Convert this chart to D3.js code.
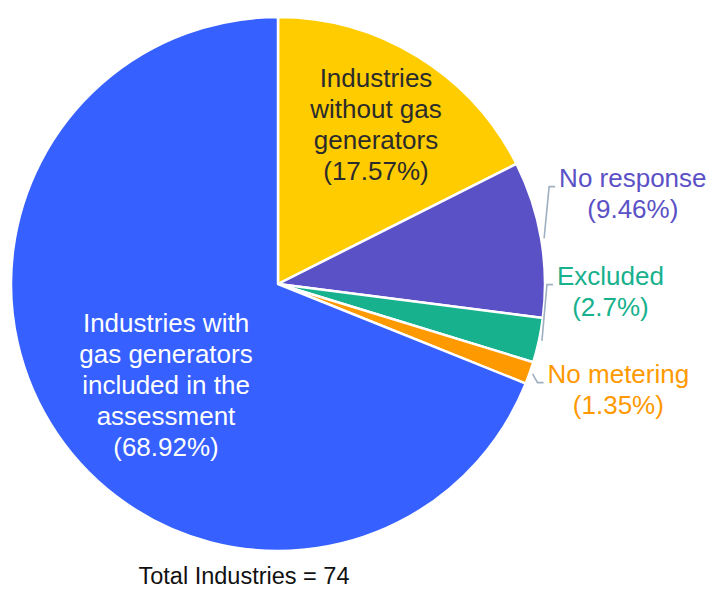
<!DOCTYPE html>
<html>
<head>
<meta charset="utf-8">
<script src="https://cdn.jsdelivr.net/npm/d3@7"></script>
<style>
  body { margin: 0; background: #fff; }
  svg text { font-family: "Liberation Sans", Arial, sans-serif; }
</style>
</head>
<body>
<svg width="713" height="589"></svg>
<script>
// data
var categories = ["Industries without gas generators", "No response", "Excluded", "No metering",
    "Industries with gas generators included in the assessment"];
var counts = [13, 7, 2, 1, 51];
var labelLines = [
    ["Industries", "without gas", "generators"],
    ["No response"],
    ["Excluded"],
    ["No metering"],
    ["Industries with", "gas generators", "included in the", "assessment"]
];
var colors = ["#FFCC00", "#5B51C6", "#17B18D", "#FF9900", "#3660FF"];
var totalLabel = "Total Industries = 74";

var svg = d3.select("svg"),
    width = +svg.attr("width"),
    height = +svg.attr("height"),
    cx = 278, cy = 284, radius = 267,
    lineH = 31;

var total = d3.sum(counts);
var pct = counts.map(function (c) { return +(c / total * 100).toFixed(2) + "%"; });

// inside / outside label settings (layout, not data)
var inside = { 0: { r: 0.70, shift: 0, fill: "#2b2b2b" }, 4: { r: 0.565, shift: -8, fill: "#ffffff" } };

var pie = d3.pie().sort(null).value(function (d) { return d; });
var arcs = pie(counts);
var arc = d3.arc().innerRadius(0).outerRadius(radius);

var g = svg.append("g").attr("transform", "translate(" + cx + "," + cy + ")");

g.selectAll("path")
    .data(arcs)
    .enter().append("path")
    .attr("d", arc)
    .attr("fill", function (d, i) { return colors[i]; })
    .attr("stroke", "#fff")
    .attr("stroke-width", 2.5)
    .attr("stroke-linejoin", "round");

function polar(a, r) { return [r * Math.sin(a), -r * Math.cos(a)]; }

// inside labels
arcs.forEach(function (d, i) {
    if (!inside[i]) return;
    var s = inside[i];
    var mid = (d.startAngle + d.endAngle) / 2 + s.shift * Math.PI / 180;
    var p = polar(mid, radius * s.r);
    var lines = labelLines[i].concat(["(" + pct[i] + ")"]);
    var t = g.append("text")
        .attr("text-anchor", "middle")
        .attr("font-size", 26)
        .attr("fill", s.fill);
    lines.forEach(function (ln, k) {
        t.append("tspan")
            .attr("x", p[0])
            .attr("y", p[1] + (k - (lines.length - 1) / 2) * lineH)
            .attr("dy", "0.35em")
            .text(ln);
    });
});

// outside labels: anchor the lowest at its mid angle, stack the rest upward
var outside = arcs.map(function (d, i) { return { d: d, i: i }; })
    .filter(function (o) { return !inside[o.i]; });
outside.forEach(function (o) {
    o.mid = (o.d.startAngle + o.d.endAngle) / 2;
    o.y = polar(o.mid, radius + 50)[1];
});
var gap = 98;
var lowY = d3.max(outside, function (o) { return o.y; });
outside.forEach(function (o, k) {
    o.ly = lowY - (outside.length - 1 - k) * gap;
});

outside.forEach(function (o) {
    var p1 = polar(o.mid, radius + 3);
    var ey = o.ly - 7;
    var p2 = [p1[0] + 5, ey];
    var p3 = [p2[0] + 6, ey];
    g.append("polyline")
        .attr("points", [p1, p2, p3].map(function (p) { return p.join(","); }).join(" "))
        .attr("fill", "none")
        .attr("stroke", "#9fb0c2")
        .attr("stroke-width", 1.6);

    var tx = p3[0] + 4;
    var t = g.append("text")
        .attr("font-size", 26)
        .attr("fill", colors[o.i]);
    var first = t.append("tspan")
        .attr("x", tx)
        .attr("y", o.ly - lineH / 2)
        .attr("dy", "0.35em")
        .text(labelLines[o.i][0]);
    var w = first.node().getComputedTextLength();
    t.append("tspan")
        .attr("x", tx + w / 2)
        .attr("y", o.ly + lineH / 2)
        .attr("dy", "0.35em")
        .attr("text-anchor", "middle")
        .text("(" + pct[o.i] + ")");
});

// footer
svg.append("text")
    .attr("x", 244)
    .attr("y", 584)
    .attr("text-anchor", "middle")
    .attr("font-size", 23.5)
    .attr("fill", "#111")
    .text(totalLabel);
</script>
</body>
</html>
